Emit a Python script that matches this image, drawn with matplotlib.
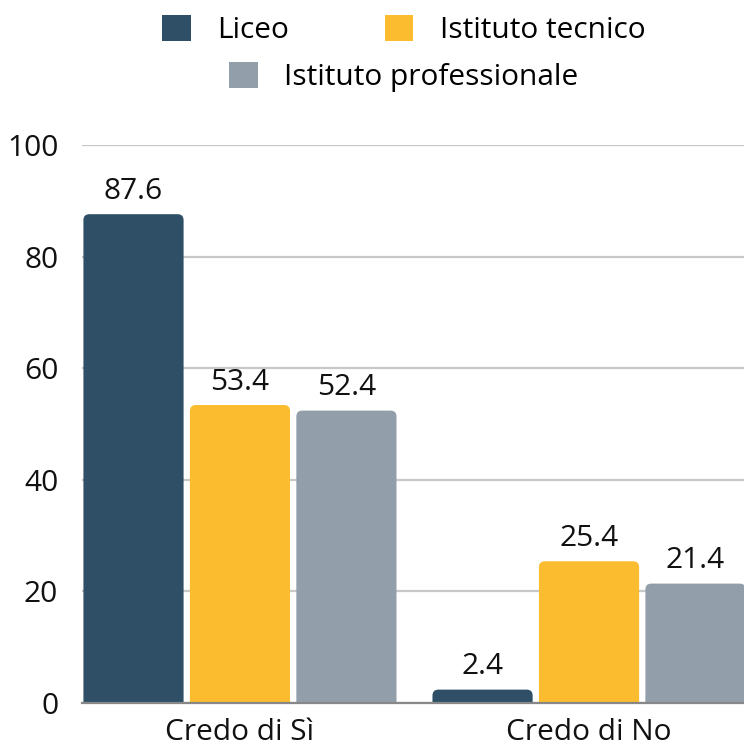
import numpy as np
import matplotlib
matplotlib.use('Agg')
import matplotlib.pyplot as plt
from matplotlib.path import Path
from matplotlib.patches import PathPatch, Patch

plt.rcParams['font.family'] = ['Open Sans', 'DejaVu Sans']

categorie = ['Credo di Sì', 'Credo di No']
serie = ['Liceo', 'Istituto tecnico', 'Istituto professionale']
liceo = [87.6, 2.4]
tecnico = [53.4, 25.4]
professionale = [52.4, 21.4]
colori = ['#2F4F67', '#FBBC30', '#929FAA']

valori = [liceo, tecnico, professionale]
fs = 21.5

fig = plt.figure(figsize=(7.44, 7.47), dpi=100)
ax = fig.add_axes([0.110, 0.0589, 0.890, 0.747])
ax.set_xlim(-0.453, 1.444)
ax.set_ylim(0, 100)

x = np.arange(len(categorie))
passo = 0.305
larg = 0.287


def barra_arrotondata(ax, x0, w, h, colore, r_px=6):
    # rettangolo con angoli superiori arrotondati
    t = ax.transData
    px_x = t.transform((1, 0))[0] - t.transform((0, 0))[0]
    px_y = t.transform((0, 1))[1] - t.transform((0, 0))[1]
    rx = min(r_px / px_x, w / 2)
    ry = min(r_px / px_y, h)
    verts = [(x0, 0), (x0, h - ry), (x0, h), (x0 + rx, h),
             (x0 + w - rx, h), (x0 + w, h), (x0 + w, h - ry),
             (x0 + w, 0), (x0, 0)]
    codes = [Path.MOVETO, Path.LINETO, Path.CURVE3, Path.CURVE3,
             Path.LINETO, Path.CURVE3, Path.CURVE3,
             Path.LINETO, Path.CLOSEPOLY]
    p = PathPatch(Path(verts, codes), facecolor=colore, edgecolor='none', zorder=3)
    ax.add_patch(p)


for i, (nome, vals) in enumerate(zip(serie, valori)):
    pos = x + (i - 1) * passo
    bars = ax.bar(pos, vals, width=larg, color=colori[i], label=nome, zorder=3)
    for b, v in zip(bars, vals):
        b.set_visible(False)
        barra_arrotondata(ax, b.get_x(), b.get_width(), b.get_height(), colori[i])
        ax.annotate(f'{v:.1f}', (b.get_x() + b.get_width() / 2, v),
                    xytext=(0, 6), textcoords='offset points',
                    ha='center', va='bottom', fontsize=fs, color='#111111')

ax.set_yticks([0, 20, 40, 60, 80, 100])
ax.set_xticks(x)
ax.set_xticklabels(categorie)
ax.grid(axis='y', color='#C8C8C8', linewidth=1.6, zorder=0)
ax.tick_params(axis='y', length=0, pad=17, labelsize=fs, labelcolor='#111111')
ax.tick_params(axis='x', length=0, pad=10.5, labelsize=fs, labelcolor='#111111')
for s in ['top', 'right', 'left']:
    ax.spines[s].set_visible(False)
ax.spines['bottom'].set_color('#888888')
ax.spines['bottom'].set_linewidth(1.6)
ax.spines['bottom'].set_zorder(4)

h = [Patch(facecolor=c, edgecolor='none') for c in colori]
leg1 = fig.legend(h[:2], serie[:2], loc='center', bbox_to_anchor=(0.543, 0.960),
                  ncol=2, frameon=False, fontsize=fs, handlelength=0.95, handleheight=0.95,
                  handletextpad=0.9, columnspacing=3.2)
leg2 = fig.legend(h[2:], serie[2:], loc='center', bbox_to_anchor=(0.543, 0.897),
                  ncol=1, frameon=False, fontsize=fs, handlelength=0.95, handleheight=0.95,
                  handletextpad=0.9)

fig.savefig('out.png', dpi=100)
